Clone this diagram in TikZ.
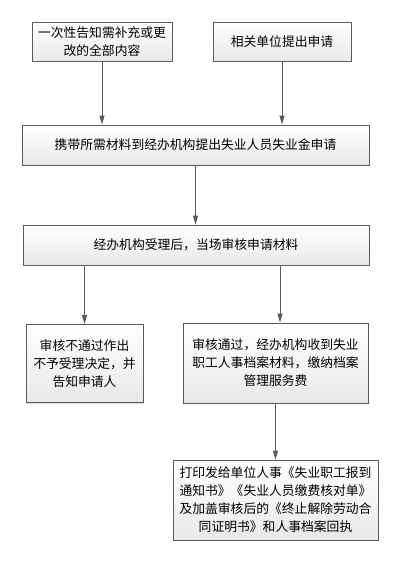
\documentclass[tikz,border=0pt]{standalone}
\usepackage{fontspec}
\setmainfont{Noto Sans CJK SC}
\usetikzlibrary{arrows.meta,shadows}
\definecolor{boxline}{RGB}{90,90,90}
\begin{document}
\begin{tikzpicture}[x=1pt,y=-1pt,
	every node/.style={draw=boxline,line width=0.8pt,top color=white,bottom color=black!9,
		drop shadow={shadow xshift=1.2pt,shadow yshift=-1.2pt,fill=black!25},
		font=\fontsize{12.8}{18}\selectfont,align=center,inner sep=0pt},
	arr/.style={draw=boxline,line width=0.8pt,-{Triangle[length=9pt,width=5pt]}}]
\useasboundingbox (0,0) rectangle (400,562);
\node[minimum width=140pt,minimum height=39pt] (known) at (102,41.5) {一次性告知需补充或更\\改的全部内容};
\node[minimum width=138pt,minimum height=39pt] (unit) at (282,41.5) {相关单位提出申请};
\node[minimum width=347pt,minimum height=40pt] (apply) at (195.5,145) {携带所需材料到经办机构提出失业人员失业金申请};
\node[minimum width=346pt,minimum height=40pt] (check) at (196,245) {经办机构受理后，当场审核申请材料};
\node[minimum width=117pt,minimum height=78pt] (reject) at (84.5,363.5) {审核不通过作出\\不予受理决定，并\\告知申请人};
\node[minimum width=185pt,minimum height=80pt] (pass) at (275.5,363) {审核通过，经办机构收到失业\\职工人事档案材料，缴纳档案\\管理服务费};
\node[minimum width=205pt,minimum height=80pt] (print) at (275.5,500) {打印发给单位人事《失业职工报到\\通知书》《失业人员缴费核对单》\\及加盖审核后的《终止解除劳动合\\同证明书》和人事档案回执};
\draw[arr] (known.south) -- (known.south |- apply.north);
\draw[arr] (unit.south) -- (unit.south |- apply.north);
\draw[arr] (apply.south) -- (check.north -| apply.south);
\draw[arr] (check.south -| reject.north) -- (reject.north);
\draw[arr] ([xshift=4.5pt]check.south -| pass.north) -- ([xshift=4.5pt]pass.north);
\draw[arr] (pass.south) -- (print.north);
\end{tikzpicture}
\end{document}
